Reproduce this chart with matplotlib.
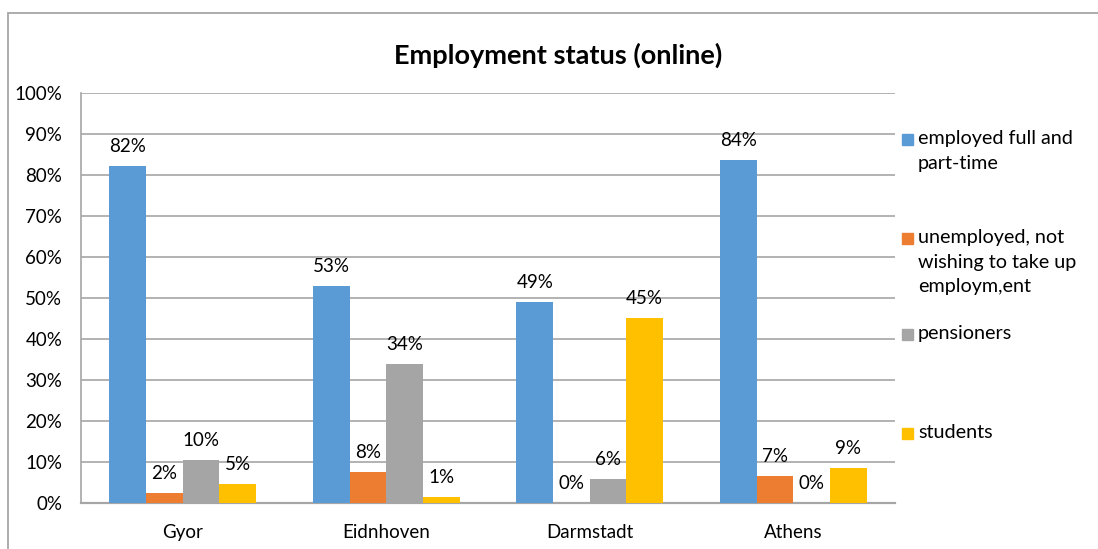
import matplotlib.pyplot as plt
import numpy as np
from matplotlib.patches import Rectangle

plt.rcParams['font.family'] = ['Lato', 'DejaVu Sans']

# data
cities = ["Gyor", "Eidnhoven", "Darmstadt", "Athens"]
employed = [82.3, 52.9, 49.0, 83.6]
unemployed = [2.4, 7.6, 0.0, 6.6]
pensioners = [10.5, 33.8, 5.8, 0.0]
students = [4.6, 1.4, 45.2, 8.6]

series_names = ["employed full and\npart-time",
                "unemployed, not\nwishing to take up\nemploym,ent",
                "pensioners",
                "students"]
colors = ["#5B9BD5", "#ED7D31", "#A5A5A5", "#FFC000"]
y_ticks = [0, 10, 20, 30, 40, 50, 60, 70, 80, 90, 100]

W, H = 1098, 549
fig = plt.figure(figsize=(W / 100, H / 100), dpi=100)
ax = fig.add_axes([81 / W, 1 - 503 / H, (895 - 81) / W, (503 - 93) / H])

# outer chart border (runs off the right and bottom edges)
fig.patches.append(Rectangle((8 / W, -0.1), 1.2, 1 - 13 / H + 0.1,
                             transform=fig.transFigure, fill=False,
                             edgecolor="#A6A6A6", linewidth=1.3))

x = np.arange(len(cities))
bw = 0.18
all_series = [employed, unemployed, pensioners, students]
for i, (vals, col) in enumerate(zip(all_series, colors)):
    pos = x + (i - 1.5) * bw
    bars = ax.bar(pos, vals, width=bw, color=col, zorder=3)
    for b, v in zip(bars, vals):
        ax.text(b.get_x() + b.get_width() / 2, v + 2.7, f"{v:.0f}%",
                ha="center", va="bottom", fontsize=13.5, color="#000000")

ax.set_xlim(-0.5, len(cities) - 0.5)
ax.set_ylim(0, 100)
ax.set_yticks(y_ticks)
ax.set_yticklabels([f"{t}%" for t in y_ticks])
ax.set_xticks(x)
ax.set_xticklabels(cities)
ax.tick_params(axis="both", length=0, labelsize=13.5, colors="#000000")
ax.tick_params(axis="y", pad=13.5)
ax.tick_params(axis="x", pad=15)
ax.grid(axis="y", color="#A6A6A6", linewidth=1.2, zorder=0)
for s in ["top", "right"]:
    ax.spines[s].set_visible(False)
ax.spines["left"].set_color("#A6A6A6")
ax.spines["bottom"].set_color("#A6A6A6")
ax.spines["left"].set_linewidth(1.2)
ax.spines["bottom"].set_linewidth(1.6)

fig.text(558 / W, 1 - 55 / H, "Employment status (online)", ha="center",
         va="center", fontsize=19.5, fontweight="bold")

# legend on the right
leg_y = [139, 238, 334, 433]
for name, col, yy in zip(series_names, colors, leg_y):
    fig.patches.append(Rectangle((902 / W, 1 - (yy + 6) / H), 11 / W, 11 / H,
                                 transform=fig.transFigure, color=col))
    fig.text(918 / W, 1 - (yy - 9) / H, name, ha="left", va="top",
             fontsize=14.2, linespacing=1.55)

fig.savefig("out.png", dpi=100)
